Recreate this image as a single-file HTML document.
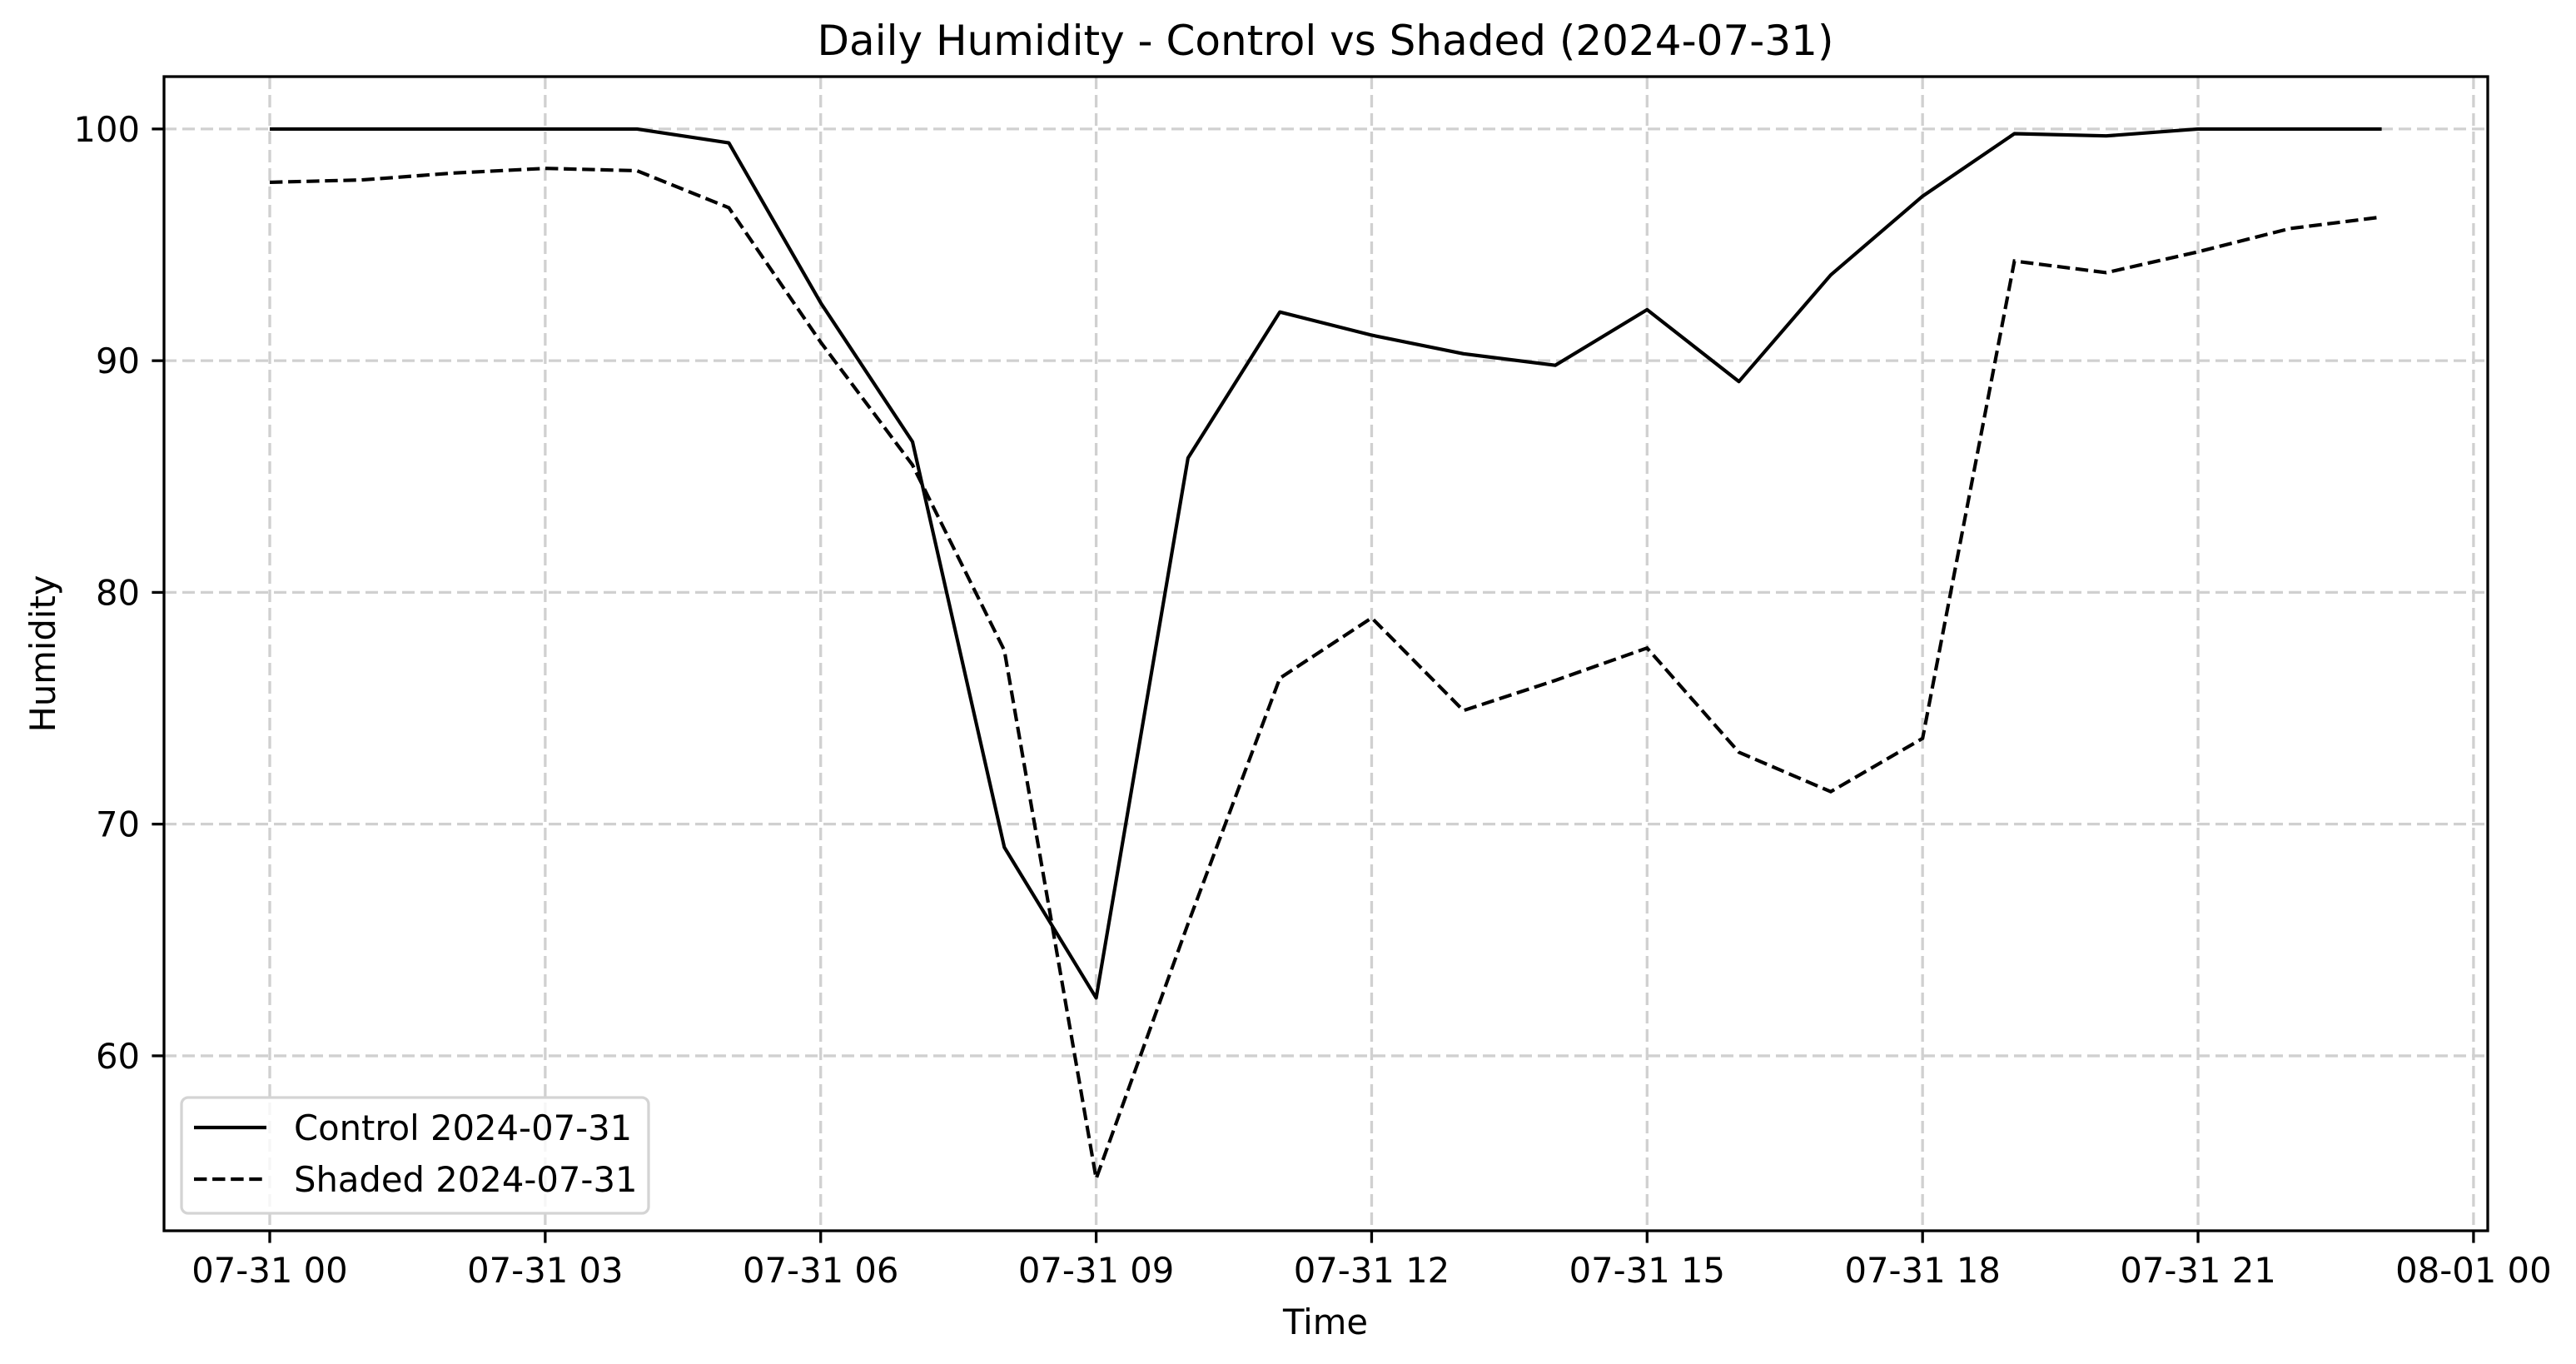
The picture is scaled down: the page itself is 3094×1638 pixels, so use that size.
<!DOCTYPE html>
<html><head><meta charset="utf-8"><style>
html,body{margin:0;padding:0;background:#fff;}
svg{display:block;font-family:"DejaVu Sans","Liberation Sans",sans-serif;}
</style></head><body>
<svg id="chart" width="3094" height="1638" viewBox="0 0 3094 1638" xmlns="http://www.w3.org/2000/svg">
<rect width="3094" height="1638" fill="#fff"/>
<g id="grid"></g>
<g id="series"></g>
<rect x="197" y="92" width="2791" height="1386" fill="none" stroke="#000" stroke-width="3.3"/>
<g id="ticks"></g>
<text x="1592" y="66" font-size="50" text-anchor="middle">Daily Humidity - Control vs Shaded (2024-07-31)</text>
<text x="1592" y="1602" font-size="41.7" text-anchor="middle">Time</text>
<text x="0" y="0" font-size="41.7" text-anchor="middle" transform="translate(66,785) rotate(-90)">Humidity</text>
<g>
<rect x="218" y="1318" width="561" height="139" rx="8" fill="#fff" fill-opacity="0.8" stroke="#d4d4d4" stroke-width="3.3"/>
<line x1="233" y1="1354" x2="320" y2="1354" stroke="#000" stroke-width="4.17"/>
<text x="353" y="1369" font-size="41.7">Control 2024-07-31</text>
<line x1="233" y1="1416" x2="320" y2="1416" stroke="#000" stroke-width="4.17" stroke-dasharray="15.4,6.7"/>
<text x="353" y="1431" font-size="41.7">Shaded 2024-07-31</text>
</g>
</svg>
<script>
const hours = [0,1,2,3,4,5,6,7,8,9,10,11,12,13,14,15,16,17,18,19,20,21,22,23];
const controlValues = [100,100,100,100,100,99.4,92.5,86.5,69,62.5,85.8,92.1,91.1,90.3,89.8,92.2,89.1,93.7,97.1,99.8,99.7,100,100,100];
const shadedValues = [97.7,97.8,98.1,98.3,98.2,96.6,90.8,85.5,77.5,54.7,65.7,76.3,78.9,74.9,76.2,77.6,73.1,71.4,73.7,94.3,93.8,94.7,95.7,96.2];
const xTickHours = [0,3,6,9,12,15,18,21,24];
const xTickLabels = ["07-31 00","07-31 03","07-31 06","07-31 09","07-31 12","07-31 15","07-31 18","07-31 21","08-01 00"];
const yTicks = [60,70,80,90,100];

const NS = "http://www.w3.org/2000/svg";
const X0 = 197, X1 = 2988, Y0 = 92, Y1 = 1478;
const xMin = -1.1515, xMax = 24.155;
const yMin = 52.45, yMax = 102.26;
function xs(h){ return X0 + (h - xMin) / (xMax - xMin) * (X1 - X0); }
function ys(v){ return Y1 - (v - yMin) / (yMax - yMin) * (Y1 - Y0); }
function mk(tag, attrs, parent){
  const e = document.createElementNS(NS, tag);
  for (const k in attrs) e.setAttribute(k, attrs[k]);
  parent.appendChild(e);
  return e;
}
const grid = document.getElementById('grid');
const ticks = document.getElementById('ticks');
const series = document.getElementById('series');

xTickHours.forEach((h, i) => {
  const x = xs(h);
  const g = mk('line', {x1:x, y1:Y0, x2:x, y2:Y1, stroke:'#d0d0d0', 'stroke-width':3.3, 'stroke-dasharray':'15,7'}, grid);
  
  
  const t = mk('line', {x1:x, y1:Y1, x2:x, y2:Y1+14.6, stroke:'#000', 'stroke-width':3.3}, ticks);
  
  
  const l = mk('text', {x:x, y:1540, 'font-size':41.7, 'text-anchor':'middle'}, ticks);
  l.textContent = xTickLabels[i];
  
  
});
yTicks.forEach(v => {
  const y = ys(v);
  const g = mk('line', {x1:X0, y1:y, x2:X1, y2:y, stroke:'#d0d0d0', 'stroke-width':3.3, 'stroke-dasharray':'15,7'}, grid);
  
  
  const t = mk('line', {x1:X0-14.6, y1:y, x2:X0, y2:y, stroke:'#000', 'stroke-width':3.3}, ticks);
  
  
  const l = mk('text', {x:X0-29, y:y+15, 'font-size':41.7, 'text-anchor':'end'}, ticks);
  l.textContent = String(v);
  
  
});
function pts(vals){ return hours.map((h,i) => xs(h).toFixed(1) + ',' + ys(vals[i]).toFixed(1)).join(' '); }
const c = mk('polyline', {points:pts(controlValues), fill:'none', stroke:'#000', 'stroke-width':4.17, 'stroke-linejoin':'round'}, series);


const s = mk('polyline', {points:pts(shadedValues), fill:'none', stroke:'#000', 'stroke-width':4.17, 'stroke-dasharray':'15.4,6.7'}, series);


</script>
</body></html>
